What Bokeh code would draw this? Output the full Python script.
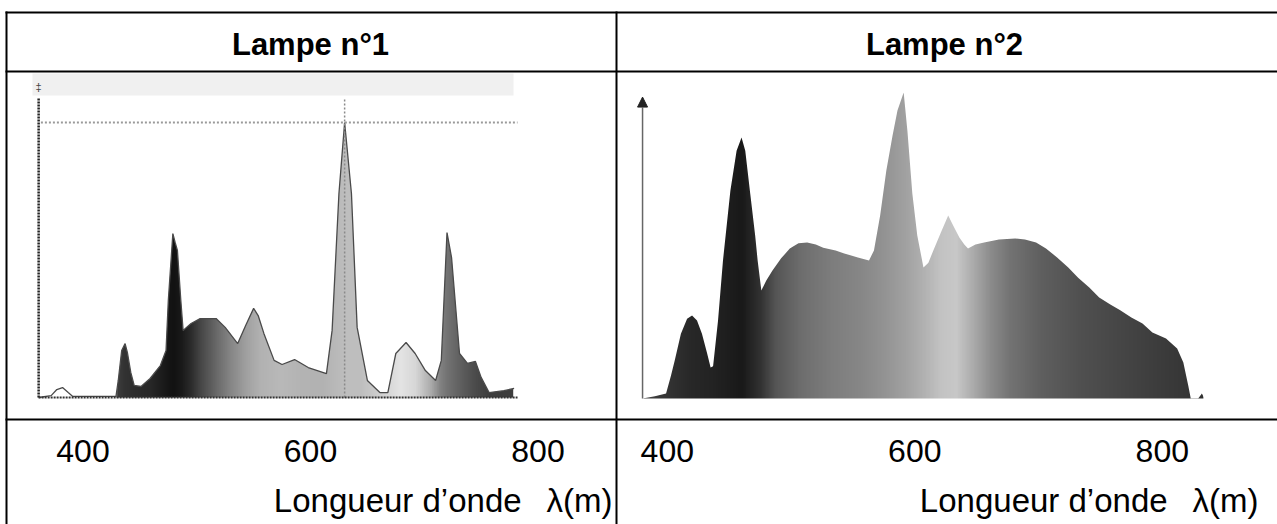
import numpy as np
from bokeh.plotting import figure
from bokeh.models import Range1d, Arrow, NormalHead
from bokeh.core.properties import value
from bokeh.embed import file_html
from bokeh.resources import INLINE

# ---------------- data ----------------
headers = ["Lampe n°1", "Lampe n°2"]
tick_values = [400, 600, 800]
tick_labels = ["400", "600", "800"]
axis_title = "Longueur d\u2019onde\u00a0\u00a0\u2009\u03bb(m)"

lamp1_wavelength = [361, 372, 377, 382, 387, 391, 429, 431, 434, 437, 439, 442, 445,
                    451, 459, 468, 473, 475, 479, 481, 483, 486, 488,
                    495, 503, 517, 525, 536, 543, 550, 554, 559,
                    568, 575, 586, 598, 614, 619, 625, 630, 636, 641,
                    650, 661, 668, 675, 684, 692, 701, 710,
                    715, 720, 724, 731, 738, 745, 750, 757, 770, 779]
lamp1_intensity = [0, 0.7, 2.9, 3.6, 1.8, 0.4, 0.4, 6.2, 17.1, 19.6, 16.4, 9.1, 4.4,
                   4.0, 6.9, 11.6, 17.1, 35.3, 59.6, 56.4, 53.5, 35.3, 24.4,
                   26.9, 28.7, 28.7, 25.5, 19.6, 26.2, 32.4, 29.8, 23.3,
                   13.5, 12.0, 13.8, 10.9, 8.7, 24.4, 74.2, 100, 74.2, 25.5,
                   6.2, 1.8, 1.8, 16.0, 20.0, 16.0, 9.8, 6.2,
                   13.5, 60.0, 50.9, 16.0, 12.4, 13.1, 7.3, 1.8, 2.5, 3.3]

lamp2_wavelength = [380, 390, 399, 403, 406, 411, 416, 420, 424, 428,
                    432, 435, 437, 441, 445, 451, 456, 460, 463, 467,
                    471, 473, 476, 480, 485, 492, 499, 506, 513, 520,
                    526, 536, 543, 554, 563, 567, 572, 577, 582, 586,
                    591, 594, 598, 602, 607, 611, 615, 621, 627, 631,
                    636, 640, 643, 649, 656, 668, 681, 689, 698, 706,
                    715, 724, 732, 741, 749, 758, 766, 775, 784, 792,
                    803, 812, 817, 821, 823, 829, 832, 834]
lamp2_intensity = [0, 0.7, 1.6, 7.5, 12.4, 21.2, 26.1, 27.1, 25.5, 21.2,
                   15.0, 10.1, 10.5, 25.5, 45.1, 68.0, 81.0, 85.3, 81.0, 67.0,
                   53.3, 45.1, 35.3, 38.6, 41.8, 45.8, 49.0, 50.7, 51.0, 50.3,
                   49.3, 48.4, 47.4, 46.1, 45.1, 48.4, 59.8, 74.5, 85.9, 94.1,
                   100, 87.6, 67.0, 53.3, 42.8, 44.4, 48.4, 54.2, 59.8, 56.5,
                   52.6, 50.3, 49.0, 50.3, 51.0, 52.0, 52.3, 52.0, 51.0, 49.0,
                   46.1, 42.8, 39.5, 36.3, 33.0, 30.7, 28.8, 26.5, 24.5, 21.6,
                   19.6, 16.3, 11.8, 4.2, 0, 0, 1.6, 0]

# grey shading of the spectra (style: 0 = black, 255 = white)
lamp1_shade_nm = [361, 428, 430, 437, 446, 459, 472, 479, 486, 495,
                  503, 517, 530, 543, 556, 574, 591, 609, 631, 644,
                  662, 679, 692, 706, 714, 720, 732, 745, 758, 779]
lamp1_shade = [255, 255, 60, 50, 45, 40, 25, 18, 25, 45,
               70, 105, 135, 160, 178, 185, 180, 178, 190, 190,
               210, 228, 215, 170, 130, 115, 95, 75, 60, 62]
lamp2_shade_nm = [380, 395, 419, 437, 460, 475, 487, 508, 532, 556, 572, 591,
                  605, 621, 633, 645, 661, 677, 702, 734, 766, 799, 834]
lamp2_shade = [70, 55, 40, 35, 25, 50, 85, 110, 125, 135, 145, 160,
               175, 195, 200, 175, 140, 115, 95, 80, 70, 60, 50]

# ---------------- layout ----------------
W, H = 1277, 524
FONT = value("Liberation Sans")

p = figure(width=W, height=H, x_range=Range1d(0, W), y_range=Range1d(H, 0),
           output_backend="svg", toolbar_location=None, min_border=0,
           x_axis_location=None, y_axis_location=None, outline_line_color=None,
           background_fill_color="white", border_fill_color="white")
p.grid.visible = False


def lam_range(anchor_px, anchor_nm, px_per_nm):
    return Range1d(anchor_nm + (0 - anchor_px) / px_per_nm,
                   anchor_nm + (W - anchor_px) / px_per_nm)


def int_range(base_px, px_per_unit):
    return Range1d((base_px - H) / px_per_unit, base_px / px_per_unit)


p.extra_x_ranges = {"l1": lam_range(310, 600, 1.1375), "l2": lam_range(914.3, 600, 1.2375)}
p.extra_y_ranges = {"i1": int_range(397, 2.75), "i2": int_range(398, 3.06)}


def gradient(nm, shade, lam0, lam1, n=700):
    xs = np.linspace(lam0, lam1, n)
    g = np.interp(xs, nm, shade).astype(np.uint32)
    img = (255 << 24) | (g << 16) | (g << 8) | g
    return img.reshape(1, n).astype(np.uint32)


def spectrum(wl, inten, nm, shade, xr, yr):
    lam0, lam1 = wl[0] + 0.8, wl[-1] - 0.8
    top = max(inten)
    p.image_rgba(image=[gradient(nm, shade, lam0, lam1)], x=lam0, y=0,
                 dw=lam1 - lam0, dh=top, x_range_name=xr, y_range_name=yr)
    p.varea(x=wl, y1=inten, y2=top + 2, fill_color="white",
            x_range_name=xr, y_range_name=yr)


# left panel: grey band of the screenshot
p.quad(left=32, right=513, top=73, bottom=95, fill_color="#f0f0f0", line_color=None)
p.text(x=[38], y=[86], text=["\u2021"], text_font=FONT, text_font_size="11px",
       text_align="center", text_baseline="middle", text_color="#444444")

spectrum(lamp1_wavelength, lamp1_intensity, lamp1_shade_nm, lamp1_shade, "l1", "i1")
p.line(lamp1_wavelength, lamp1_intensity, line_color="#4a4a4a", line_width=1.3,
       x_range_name="l1", y_range_name="i1")
pk1 = lamp1_wavelength[int(np.argmax(lamp1_intensity))]
top1 = max(lamp1_intensity)
# dotted guide lines of the spectrometer
p.segment(x0=lamp1_wavelength[0] + 2, y0=top1, x1=lamp1_wavelength[-1] + 3, y1=top1,
          line_color="#9a9a9a", line_width=2, line_dash="2 2",
          x_range_name="l1", y_range_name="i1")
p.segment(x0=pk1, y0=0, x1=pk1, y1=109, line_color="#8a8a8a", line_width=1.5,
          line_dash="2 2", x_range_name="l1", y_range_name="i1")
# axes of the screenshot
p.segment(x0=lamp1_wavelength[0], y0=0, x1=lamp1_wavelength[0], y1=109,
          line_color="#222222", line_width=2.5, line_dash="2 1",
          x_range_name="l1", y_range_name="i1")
p.segment(x0=lamp1_wavelength[0], y0=0, x1=lamp1_wavelength[-1] + 3, y1=0,
          line_color="#333333", line_width=2, line_dash="2 1",
          x_range_name="l1", y_range_name="i1")

# right panel
spectrum(lamp2_wavelength, lamp2_intensity, lamp2_shade_nm, lamp2_shade, "l2", "i2")
p.add_layout(Arrow(x_start=lamp2_wavelength[0], y_start=0,
                   x_end=lamp2_wavelength[0], y_end=98.5,
                   x_range_name="l2", y_range_name="i2",
                   line_color="#666666", line_width=1.5,
                   end=NormalHead(size=10, fill_color="#222222", line_color="#222222")))

# table rules
p.segment(x0=[5, 5, 5, 6, 616], y0=[12, 71, 419, 11, 11],
          x1=[W, W, W, 6, 616], y1=[12, 71, 419, H, H],
          line_color="black", line_width=2)

# headers
p.text(x=[310, 944], y=[44, 44], text=headers, text_font=FONT, text_font_size="31px",
       text_font_style="bold", text_align="center", text_baseline="alphabetic",
       text_color="black")

# tick labels and axis titles
for xr in ("l1", "l2"):
    p.text(x=tick_values, y=[450] * len(tick_values), text=tick_labels, text_font=FONT,
           text_font_size="32px", text_align="center", text_baseline="alphabetic",
           text_color="black", x_range_name=xr)
p.text(x=[612, 1258], y=[500, 500], text=[axis_title, axis_title], text_font=FONT,
       text_font_size="33px", text_align="right", text_baseline="alphabetic",
       text_color="black")

open("out.html", "w").write(file_html(p, INLINE, title="Lampes"))
